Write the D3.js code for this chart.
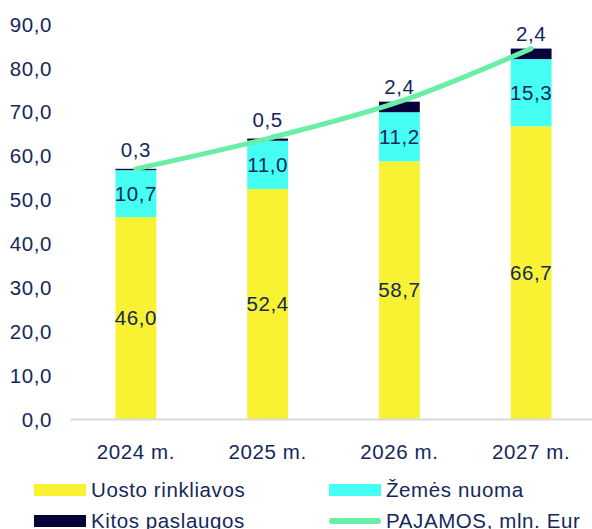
<!DOCTYPE html>
<html>
<head>
<meta charset="utf-8">
<script src="https://cdn.jsdelivr.net/npm/d3@7"></script>
<style>
  body { margin: 0; background: #fff; }
  svg { display: block; font-family: "Liberation Sans", Arial, sans-serif; }
  svg text { letter-spacing: 0.6px; }
</style>
</head>
<body>
<svg width="592" height="529"></svg>
<script>
var years = ["2024 m.", "2025 m.", "2026 m.", "2027 m."];
var uosto = [46.0, 52.4, 58.7, 66.7];
var zemes = [10.7, 11.0, 11.2, 15.3];
var kitos = [0.3, 0.5, 2.4, 2.4];
var pajamos = [57.0, 63.9, 72.3, 84.4];
var yTicks = [0, 10, 20, 30, 40, 50, 60, 70, 80, 90];

var seriesNames = ["Uosto rinkliavos", "Žemės nuoma", "Kitos paslaugos"];
var colors = ["#f8f232", "#44fff2", "#07013a"];
var lineColor = "#68eea6";
var textColor = "#14285c";
var fontSize = "20.5px";

var svg = d3.select("svg");
var fmt = function(v) { return v.toFixed(1).replace(".", ","); };

var x = d3.scaleBand().domain(years).range([70, 597]).paddingInner(0.69).paddingOuter(0.345);
var y = d3.scaleLinear().domain([0, 90]).range([419, 24]);

// stacked data
var rows = years.map(function(yr, i) {
  return { year: yr, "Uosto rinkliavos": uosto[i], "Žemės nuoma": zemes[i], "Kitos paslaugos": kitos[i] };
});
var stack = d3.stack().keys(seriesNames)(rows);

// y axis labels
var yAxis = svg.append("g").attr("transform", "translate(52,0)")
  .call(d3.axisLeft(y).tickValues(yTicks).tickFormat(fmt).tickSize(0).tickPadding(0));
yAxis.select(".domain").remove();
yAxis.selectAll("text").attr("fill", textColor).style("font-size", fontSize)
  .style("font-family", "Liberation Sans, Arial, sans-serif").attr("dy", "0.35em");

// bars
var layers = svg.append("g").selectAll("g").data(stack).enter().append("g")
  .attr("fill", function(d, i) { return colors[i]; });
layers.selectAll("rect").data(function(d) { return d; }).enter().append("rect")
  .attr("x", function(d) { return x(d.data.year); })
  .attr("width", x.bandwidth())
  .attr("y", function(d) { return y(d[1]); })
  .attr("height", function(d) { return y(d[0]) - y(d[1]); });

// x axis
var xAxis = svg.append("g").attr("transform", "translate(0,419)")
  .call(d3.axisBottom(x).tickSize(0).tickPadding(25));
xAxis.select(".domain").attr("stroke", "#d9d9d9").attr("stroke-width", 2);
xAxis.selectAll("text").attr("fill", textColor).style("font-size", fontSize)
  .style("font-family", "Liberation Sans, Arial, sans-serif");

// line
var line = d3.line()
  .x(function(d, i) { return x(years[i]) + x.bandwidth() / 2; })
  .y(function(d) { return y(d); })
  .curve(d3.curveMonotoneX);
svg.append("path").datum(pajamos).attr("d", line)
  .attr("fill", "none").attr("stroke", lineColor).attr("stroke-width", 5)
  .attr("stroke-linecap", "round");

// labels
var labels = svg.append("g").attr("fill", textColor).style("font-size", fontSize).attr("text-anchor", "middle");
stack.forEach(function(layer, li) {
  layer.forEach(function(d) {
    var cy = (y(d[0]) + y(d[1])) / 2;
    if (li === 2) cy -= 20;
    labels.append("text")
      .attr("x", x(d.data.year) + x.bandwidth() / 2)
      .attr("y", cy).attr("dy", "0.35em")
      .text(fmt(d[1] - d[0]));
  });
});

// legend
var legendItems = [
  { name: seriesNames[0], color: colors[0], type: "rect", col: 0, row: 0 },
  { name: seriesNames[1], color: colors[1], type: "rect", col: 1, row: 0 },
  { name: seriesNames[2], color: colors[2], type: "rect", col: 0, row: 1 },
  { name: "PAJAMOS, mln. Eur", color: lineColor, type: "line", col: 1, row: 1 }
];
var legend = svg.append("g").selectAll("g").data(legendItems).enter().append("g")
  .attr("transform", function(d) { return "translate(" + (d.col ? 329 : 34) + "," + (d.row ? 521 : 490) + ")"; });
legend.filter(function(d) { return d.type === "rect"; }).append("rect")
  .attr("x", 0).attr("y", -6).attr("width", 52).attr("height", 12)
  .attr("fill", function(d) { return d.color; });
legend.filter(function(d) { return d.type === "line"; }).append("line")
  .attr("x1", 3).attr("x2", 49).attr("y1", 0).attr("y2", 0)
  .attr("stroke", function(d) { return d.color; }).attr("stroke-width", 6).attr("stroke-linecap", "round");
legend.append("text").attr("x", 57).attr("dy", "0.35em")
  .attr("fill", textColor).style("font-size", fontSize)
  .text(function(d) { return d.name; });
</script>
</body>
</html>
